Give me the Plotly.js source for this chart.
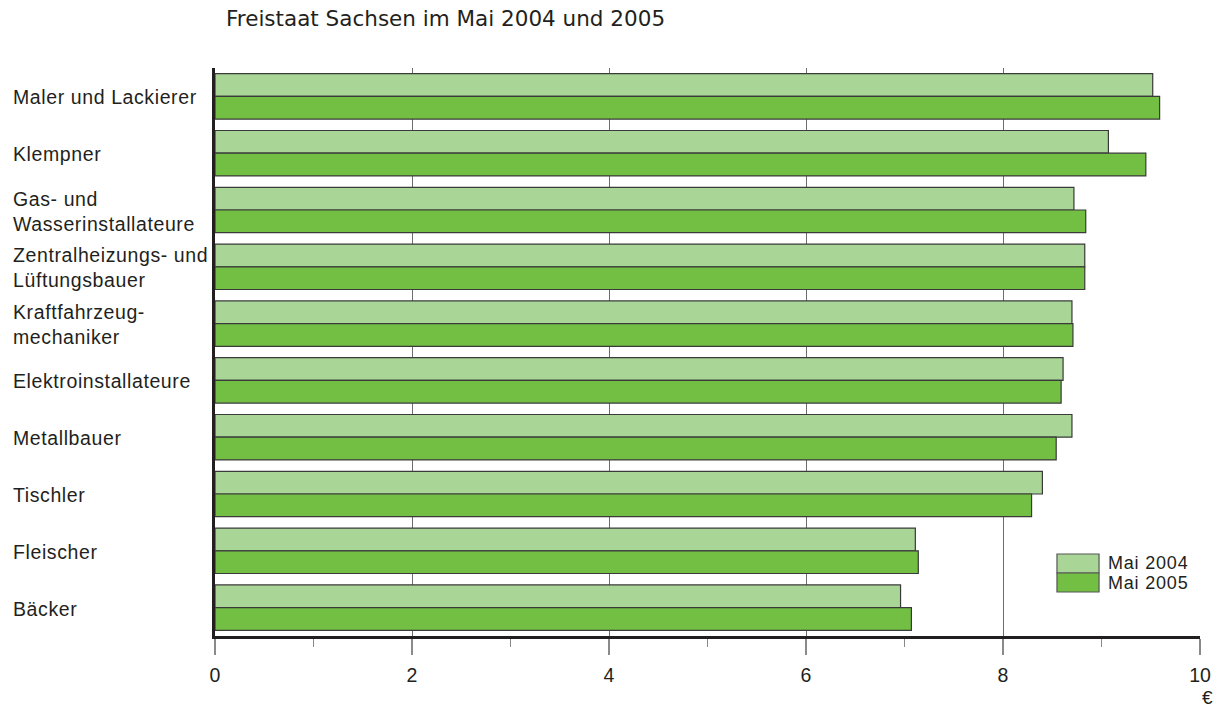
<!DOCTYPE html>
<html>
<head>
<meta charset="utf-8">
<script src="https://cdn.plot.ly/plotly-3.0.1.min.js"></script>
<style>html,body{margin:0;padding:0;background:#fff;}#chart{width:1231px;height:709px;}</style>
</head>
<body>
<div id="chart"></div>
<script>
const categories = ["Maler und Lackierer", "Klempner", "Gas- und<br>Wasserinstallateure", "Zentralheizungs- und<br>Lüftungsbauer", "Kraftfahrzeug-<br>mechaniker", "Elektroinstallateure", "Metallbauer", "Tischler", "Fleischer", "Bäcker"];
const mai2004 = [9.52, 9.07, 8.72, 8.83, 8.70, 8.61, 8.70, 8.40, 7.11, 6.96];
const mai2005 = [9.59, 9.45, 8.84, 8.83, 8.71, 8.59, 8.54, 8.29, 7.14, 7.07];
const seriesNames = ["Mai 2004", "Mai 2005"];
const xTicks = [0, 2, 4, 6, 8, 10];

const colors = ["#a9d696", "#72bf44"];
const FONT = "Liberation Sans, Arial, sans-serif";
const sp = (t, px) => t.split("<br>").map(s => `<span style="letter-spacing:${px}px">${s}</span>`).join("<br>");

const traces = [mai2004, mai2005].map((vals, i) => ({
  type: "bar", orientation: "h", name: seriesNames[i],
  y: categories, x: vals,
  marker: {color: colors[i], line: {color: "#3a3a3a", width: 1.2}},
  hoverinfo: "x+y", showlegend: false
}));

const annotations = categories.map(c => ({
  xref: "paper", yref: "y", x: -0.2076, y: c, xanchor: "left", yanchor: "middle",
  text: sp(c, 0.6), showarrow: false, align: "left", yshift: -1,
  font: {family: FONT, size: 19.5, color: "#231f20"}
}));
annotations.push({xref: "paper", yref: "paper", x: 1.008, y: -0.109, xanchor: "center", yanchor: "middle",
  text: "€", showarrow: false, font: {family: FONT, size: 19, color: "#231f20"}});
// legend text
const legY = [0.1285, 0.0933];
seriesNames.forEach((n, i) => annotations.push({
  xref: "paper", yref: "paper", x: 0.9046, y: legY[i], xanchor: "left", yanchor: "middle",
  text: sp(n, 0.8), showarrow: false, font: {family: FONT, size: 18, color: "#231f20"}
}));
const legBox = [[0.1109, 0.1444], [0.0775, 0.1109]];
const shapes = seriesNames.map((n, i) => ({
  type: "rect", xref: "paper", yref: "paper",
  x0: 0.8548, x1: 0.8975, y0: legBox[i][0], y1: legBox[i][1],
  fillcolor: colors[i], line: {color: "#555", width: 1.2}
}));

const layout = {
  width: 1231, height: 709,
  margin: {l: 215, r: 31, t: 68, b: 73},
  paper_bgcolor: "#fff", plot_bgcolor: "#fff",
  barmode: "group", bargap: 0.2, bargroupgap: 0,
  title: {text: "Freistaat Sachsen im Mai 2004 und 2005", x: 226/1231, xanchor: "left", y: 0.974, yanchor: "middle",
    font: {family: "DejaVu Sans, sans-serif", size: 21.5, color: "#231f20"}},
  xaxis: {range: [0, 10], tickvals: xTicks, ticktext: xTicks.map(String),
    showgrid: true, gridcolor: "#6d6d6d", gridwidth: 1, zeroline: false,
    showline: true, linecolor: "#231f20", linewidth: 3,
    ticks: "outside", ticklen: 16, tickcolor: "#8a8a8a", tickwidth: 1.5,
    minor: {dtick: 1, tick0: 0, ticks: "outside", ticklen: 8, tickcolor: "#8a8a8a", tickwidth: 1.5, showgrid: false},
    ticklabelstandoff: 4,
    tickfont: {family: FONT, size: 19.5, color: "#231f20"}, fixedrange: true},
  yaxis: {type: "category", autorange: "reversed", showticklabels: false, ticks: "",
    showgrid: false, zeroline: false, showline: true, linecolor: "#231f20", linewidth: 3, fixedrange: true},
  annotations: annotations, shapes: shapes, showlegend: false
};

Plotly.newPlot("chart", traces, layout, {displayModeBar: false, staticPlot: true});
</script>
</body>
</html>
